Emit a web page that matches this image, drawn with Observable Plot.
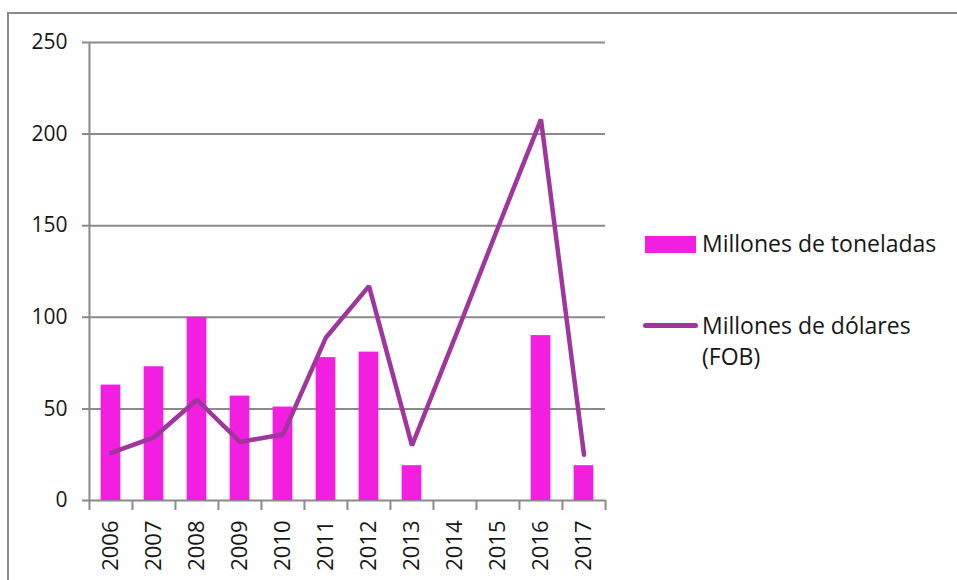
<!DOCTYPE html>
<html>
<head>
<meta charset="utf-8">
<script src="https://cdn.jsdelivr.net/npm/d3@7"></script>
<script src="https://cdn.jsdelivr.net/npm/@observablehq/plot@0.6"></script>
<style>
  html, body { margin: 0; padding: 0; background: #fff; }
  #wrap { position: relative; width: 957px; height: 580px; overflow: hidden; font-family: "Open Sans", sans-serif; }
  #frame { position: absolute; left: 7px; top: 12px; width: 960px; height: 600px; border-left: 2px solid #8a8a8a; border-top: 2px solid #8a8a8a; box-sizing: border-box; }
  #chart { position: absolute; left: 0; top: 0; }
  .leg { position: absolute; font-size: 23px; color: #161616; line-height: 31px; white-space: nowrap; }
</style>
</head>
<body>
<div id="wrap">
  <div id="frame"></div>
  <div id="chart"></div>
  <div class="leg" style="left:645px; top:228px;"><span style="display:inline-block;width:51px;height:17px;background:#f21ee0;vertical-align:-1px;margin-right:6px;"></span><span id="l1"></span></div>
  <div class="leg" style="left:643px; top:310px;"><span style="display:inline-block;width:55px;height:5px;border-radius:3px;background:#a0359e;vertical-align:6px;margin-right:4px;"></span><span id="l2"></span><br><span style="margin-left:59px" id="l3"></span></div>
</div>
<script>
const years = ["2006","2007","2008","2009","2010","2011","2012","2013","2014","2015","2016","2017"];
const toneladas = [63, 73, 100, 57, 51, 78, 81, 19, null, null, 90, 19];
const dolares = [26, 34.5, 55, 32, 36, 89, 117, 30, 89, 149, 208, 25];
const yTicks = [0, 50, 100, 150, 200, 250];
const seriesNames = ["Millones de toneladas", "Millones de dólares", "(FOB)"];

document.getElementById("l1").textContent = seriesNames[0];
document.getElementById("l2").textContent = seriesNames[1];
document.getElementById("l3").textContent = seriesNames[2];

const bars = years.map((y, i) => ({year: y, v: toneladas[i]})).filter(d => d.v != null);
const line = years.map((y, i) => ({year: y, v: dolares[i]}));

const W = 957, H = 580, mL = 88, mR = 352;
const bw = (W - mL - mR) / years.length;

const chart = Plot.plot({
  width: W,
  height: H,
  marginLeft: mL,
  marginRight: mR,
  marginTop: 42,
  marginBottom: 80,
  style: {fontFamily: "Open Sans, sans-serif", fontSize: "21px", color: "#161616", background: "transparent"},
  x: {domain: years, padding: 0, paddingInner: 0, paddingOuter: 0},
  y: {domain: [0, 250]},
  marks: [
    Plot.ruleY(yTicks, {y: d => d, stroke: "#8a8a8a", strokeWidth: 2, insetLeft: -6}),
    Plot.ruleX([0], {x: () => years[0], dx: -bw / 2, y1: 0, y2: 250, stroke: "#8a8a8a", strokeWidth: 2}),
    Plot.ruleX(years, {x: d => d, dx: -bw / 2, y1: 0, y2: 0, insetBottom: -10, stroke: "#8a8a8a", strokeWidth: 2}),
    Plot.ruleX([years[years.length - 1]], {x: d => d, dx: bw / 2, y1: 0, y2: 0, insetBottom: -10, stroke: "#8a8a8a", strokeWidth: 2}),
    Plot.barY(bars, {x: "year", y: "v", fill: "#f21ee0", insetLeft: bw * 0.27, insetRight: bw * 0.27}),
    Plot.line(line, {x: "year", y: "v", stroke: "#a0359e", strokeWidth: 4.5, strokeLinejoin: "miter", strokeLinecap: "round"}),
    Plot.axisY(yTicks, {tickSize: 0, tickPadding: 21, label: null, fontSize: 21}),
    Plot.axisX(years, {tickSize: 0, tickPadding: 20, tickRotate: -90, label: null, fontSize: 22})
  ]
});
document.getElementById("chart").appendChild(chart);
</script>
</body>
</html>
